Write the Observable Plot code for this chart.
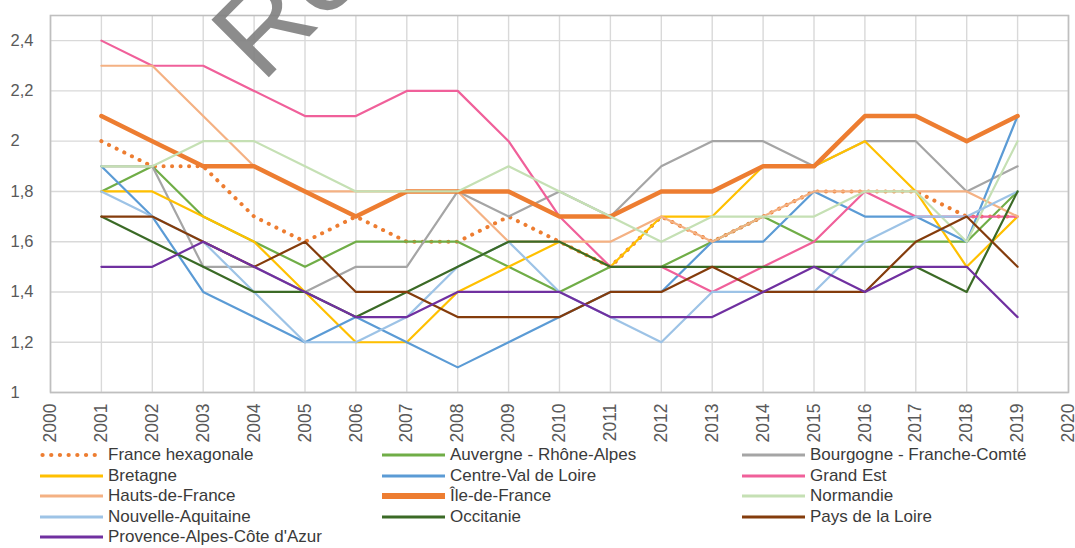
<!DOCTYPE html>
<html>
<head>
<meta charset="utf-8">
<script src="https://cdn.jsdelivr.net/npm/d3@7"></script>
<script src="https://cdn.jsdelivr.net/npm/@observablehq/plot@0.6"></script>
<style>
  body { margin: 0; background: #fff; font-family: "Liberation Sans", Arial, sans-serif; }
  #wrap { position: relative; width: 1075px; height: 548px; overflow: hidden; background: #fff; }
  #legend { position: absolute; left: 0; top: 0; width: 1075px; height: 548px; pointer-events: none; }
  .item { position: absolute; display: flex; align-items: center; font-size: 17px; color: #3a3a3a; height: 20px; white-space: nowrap; }
  .item svg { margin-right: 5px; }
  #wm { position: absolute; left: 0; top: 0; pointer-events: none; }
</style>
</head>
<body>
<div id="wrap"></div>
<script>
// ---- Data ----
const years = [2001,2002,2003,2004,2005,2006,2007,2008,2009,2010,2011,2012,2013,2014,2015,2016,2017,2018,2019];
const xTicks = [2000,2001,2002,2003,2004,2005,2006,2007,2008,2009,2010,2011,2012,2013,2014,2015,2016,2017,2018,2019,2020];
const yTicks = [1, 1.2, 1.4, 1.6, 1.8, 2, 2.2, 2.4];

const seriesNames = [
  "France hexagonale", "Auvergne - Rhône-Alpes", "Bourgogne - Franche-Comté",
  "Bretagne", "Centre-Val de Loire", "Grand Est",
  "Hauts-de-France", "Île-de-France", "Normandie",
  "Nouvelle-Aquitaine", "Occitanie", "Pays de la Loire",
  "Provence-Alpes-Côte d'Azur"
];

const franceHexagonale = [2.0,1.9,1.9,1.7,1.6,1.7,1.6,1.6,1.7,1.6,1.5,1.7,1.6,1.7,1.8,1.8,1.8,1.7,1.7];
const auvergneRhoneAlpes = [1.8,1.9,1.7,1.6,1.5,1.6,1.6,1.6,1.5,1.4,1.5,1.5,1.6,1.7,1.6,1.6,1.6,1.6,1.8];
const bourgogneFC = [1.9,1.9,1.5,1.5,1.4,1.5,1.5,1.8,1.7,1.8,1.7,1.9,2.0,2.0,1.9,2.0,2.0,1.8,1.9];
const bretagne = [1.8,1.8,1.7,1.6,1.4,1.2,1.2,1.4,1.5,1.6,1.5,1.7,1.7,1.9,1.9,2.0,1.8,1.5,1.7];
const centreVdL = [1.9,1.7,1.4,1.3,1.2,1.3,1.2,1.1,1.2,1.3,1.4,1.4,1.6,1.6,1.8,1.7,1.7,1.6,2.1];
const grandEst = [2.4,2.3,2.3,2.2,2.1,2.1,2.2,2.2,2.0,1.7,1.5,1.5,1.4,1.5,1.6,1.8,1.7,1.7,1.7];
const hautsDeFrance = [2.3,2.3,2.1,1.9,1.8,1.8,1.8,1.8,1.6,1.6,1.6,1.7,1.6,1.7,1.8,1.8,1.8,1.8,1.7];
const ileDeFrance = [2.1,2.0,1.9,1.9,1.8,1.7,1.8,1.8,1.8,1.7,1.7,1.8,1.8,1.9,1.9,2.1,2.1,2.0,2.1];
const normandie = [1.9,1.9,2.0,2.0,1.9,1.8,1.8,1.8,1.9,1.8,1.7,1.6,1.7,1.7,1.7,1.8,1.8,1.6,2.0];
const nouvelleAquitaine = [1.8,1.7,1.6,1.4,1.2,1.2,1.3,1.5,1.6,1.4,1.3,1.2,1.4,1.4,1.4,1.6,1.7,1.7,1.8];
const occitanie = [1.7,1.6,1.5,1.4,1.4,1.3,1.4,1.5,1.6,1.6,1.5,1.5,1.5,1.5,1.5,1.5,1.5,1.4,1.8];
const paysDeLaLoire = [1.7,1.7,1.6,1.5,1.6,1.4,1.4,1.3,1.3,1.3,1.4,1.4,1.5,1.4,1.4,1.4,1.6,1.7,1.5];
const paca = [1.5,1.5,1.6,1.5,1.4,1.3,1.3,1.4,1.4,1.4,1.3,1.3,1.3,1.4,1.5,1.4,1.5,1.5,1.3];

const seriesValues = [
  franceHexagonale, auvergneRhoneAlpes, bourgogneFC, bretagne, centreVdL, grandEst,
  hautsDeFrance, ileDeFrance, normandie, nouvelleAquitaine, occitanie, paysDeLaLoire, paca
];

// ---- Styles ----
const seriesColors = [
  "#ED7D31", "#70AD47", "#A5A5A5", "#FFC000", "#5B9BD5", "#F0609A",
  "#F4B183", "#ED7D31", "#C5E0B4", "#9DC3E6", "#3B6A26", "#843C0C", "#7030A0"
];
const styleOf = (name) => {
  if (name === "France hexagonale") return {strokeWidth: 4, strokeDasharray: "0.1 8.4", strokeLinecap: "round"};
  if (name === "Île-de-France") return {strokeWidth: 4.5};
  return {strokeWidth: 2.2};
};

// ---- Table ----
const table = seriesNames.map((name, i) => years.map((year, j) => ({name, year, value: seriesValues[i][j]})));

const fmt = d => String(+d.toFixed(1)).replace(".", ",");

const lineMarks = seriesNames.map((name, i) =>
  Plot.line(table[i], {x: "year", y: "value", stroke: seriesColors[i], strokeLinejoin: "round", ...styleOf(name)})
);

const chart = Plot.plot({
  width: 1075,
  height: 447,
  marginTop: 15,
  marginBottom: 55,
  marginLeft: 50,
  marginRight: 7,
  style: {fontFamily: "'Liberation Sans', Arial, sans-serif", fontSize: "16px", color: "#595959", background: "#fff"},
  x: {domain: [2000, 2020], label: null},
  y: {domain: [1, 2.5], label: null},
  marks: [
    Plot.gridX(xTicks, {stroke: "#d9d9d9", strokeOpacity: 1, strokeWidth: 1.4}),
    Plot.gridY(yTicks, {stroke: "#d9d9d9", strokeOpacity: 1, strokeWidth: 1.4}),
    Plot.frame({stroke: "#bfbfbf", strokeWidth: 1.6}),
    ...lineMarks,
    Plot.axisX(xTicks, {tickSize: 0, tickPadding: 11, tickRotate: -90, tickFormat: d => String(d), fill: "#595959", fontSize: 17.5, label: null}),
    Plot.axisY(yTicks, {tickSize: 0, tickPadding: 40, textAnchor: "start", tickFormat: fmt, fill: "#595959", fontSize: 16.5, label: null})
  ]
});

const wrap = document.getElementById("wrap");
wrap.appendChild(chart);

// ---- Legend ----
const legend = document.createElement("div");
legend.id = "legend";
const colLeft = [40, 382, 742];
seriesNames.forEach((name, i) => {
  const col = i % 3, row = Math.floor(i / 3);
  const item = document.createElement("div");
  item.className = "item";
  item.style.left = colLeft[col] + "px";
  item.style.top = (445 + row * 20.6) + "px";
  const st = styleOf(name);
  const w = name === "Île-de-France" ? 6 : (name === "France hexagonale" ? 4.2 : 3);
  const dash = st.strokeDasharray ? ` stroke-dasharray="0.1 8.6" stroke-linecap="round"` : "";
  item.innerHTML = `<svg width="63" height="20"><line x1="${st.strokeDasharray ? 2.5 : 0}" x2="63" y1="10" y2="10" stroke="${seriesColors[i]}" stroke-width="${w}"${dash}/></svg><span>${name}</span>`;
  legend.appendChild(item);
});
wrap.appendChild(legend);

// ---- Watermark (partially visible) ----
const ns = "http://www.w3.org/2000/svg";
const wm = document.createElementNS(ns, "svg");
wm.setAttribute("id", "wm");
wm.setAttribute("width", 1075);
wm.setAttribute("height", 548);
const t = document.createElementNS(ns, "text");
t.setAttribute("transform", "translate(262,84) rotate(-45)");
t.setAttribute("font-size", "118");
t.setAttribute("font-family", "'Liberation Sans', Arial, sans-serif");
t.setAttribute("fill", "#7f7f7f");
t.setAttribute("fill-opacity", "0.9");
t.textContent = "Re";
wm.appendChild(t);
wrap.appendChild(wm);
</script>
</body>
</html>
